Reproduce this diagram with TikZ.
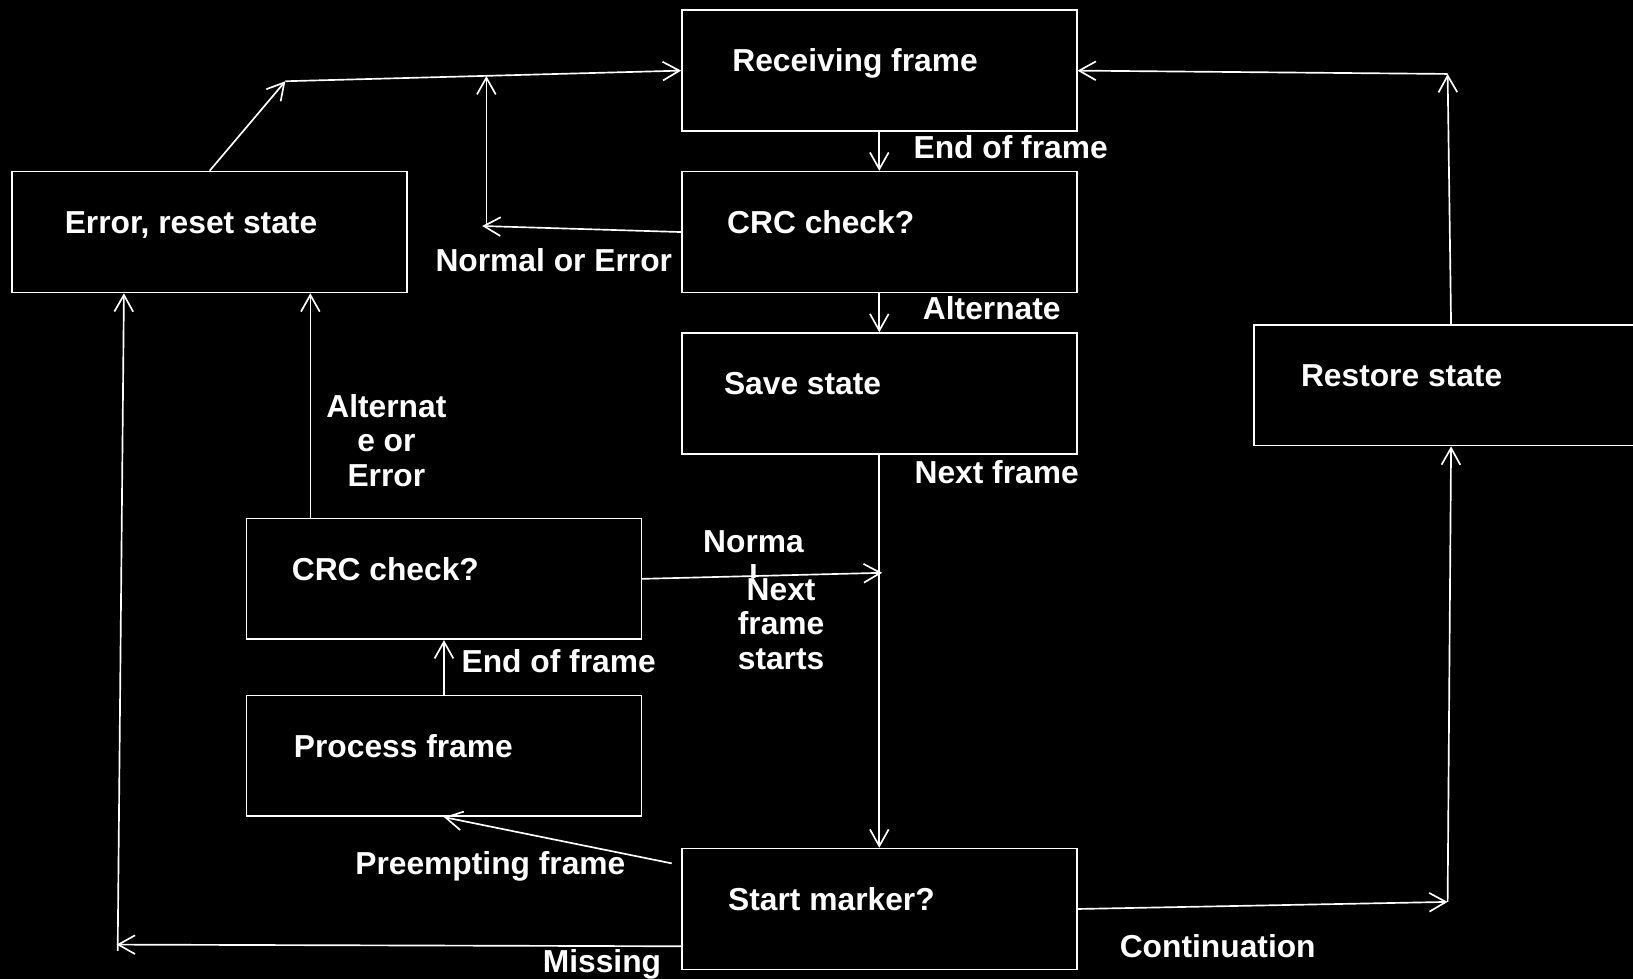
\documentclass[tikz,border=0pt]{standalone}
\usepackage{fontspec}
\setmainfont{Liberation Sans}
\usetikzlibrary{arrows.meta,calc}
\begin{document}
\begin{tikzpicture}[x=1pt,y=-1pt,
  box/.style={draw=white, line width=1.6pt, minimum width=379pt, minimum height=116pt, inner sep=0pt, anchor=north west},
  txt/.style={text=white, font=\bfseries\fontsize{30.5}{33.3}\selectfont, inner sep=0pt, anchor=base west},
  mtxt/.style={txt, anchor=base, align=center},
  arr/.style={draw=white, line width=1.6pt, -{Straight Barb[length=16pt,width=18pt]}}]
\fill[black] (0,0) rectangle (1568,940);
\useasboundingbox (0,0) rectangle (1568,940);
\clip (0,0) rectangle (1568,940);
% boxes
\node[box] (recv) at (654,9) {};
\node[box] (crct) at (654,164) {};
\node[box] (save) at (654,319) {};
\node[box] (rest) at (1203,311) {};
\node[box] (err) at (11,164) {};
\node[box] (crcb) at (236,497) {};
\node[box] (proc) at (236,667) {};
\node[box] (sm) at (654,814) {};
% box texts
\node[txt] (trecv) at (703,69) {Receiving frame};
\node[txt] (tcrct) at (698,224) {CRC check?};
\node[txt] (tsave) at (695,379) {Save state};
\node[txt] (trest) at (1249,371) {Restore state};
\node[txt] (terr) at (62,224) {Error, reset state};
\node[txt] (tcrcb) at (280,557) {CRC check?};
\node[txt] (tproc) at (282,727) {Process frame};
\node[txt] (tsm) at (699,874) {Start marker?};
% junctions
\coordinate (j1) at (274,78);
\coordinate (j2) at (467,73);
\coordinate (j3) at (463,217);
\coordinate (j3b) at (467,217);
\coordinate (j4) at (1390,71);
\coordinate (j5) at (1390,866);
\coordinate (j6) at (847,550);
\coordinate (j7) at (112,907);
\coordinate (j7b) at (113,913);
% connectors
\draw[arr] (err.north) -- (j1);
\draw[arr] (j1) -- (recv.west);
\draw[arr] (crct.west) -- (j3);
\draw[arr] (j3b) -- (j2);
\draw[arr] (recv.south) -- (crct.north);
\draw[arr] (crct.south) -- (save.north);
\draw[arr] (save.south) -- (sm.north);
\draw[arr] (crcb.east) -- (j6);
\draw[arr] ([xshift=62pt]crcb.north west) -- ([xshift=287pt]err.south west);
\draw[arr] (proc.north) -- (crcb.south);
\draw[arr] ([xshift=-9pt,yshift=-15pt]sm.north west) -- (proc.south);
\draw[arr] ([yshift=23pt]sm.south west) -- (j7);
\draw[arr] (j7b) -- ([xshift=108pt]err.south west);
\draw[arr] (sm.east) -- (j5);
\draw[arr] (j5) -- (rest.south);
\draw[arr] (rest.north) -- (j4);
\draw[arr] (j4) -- (recv.east);
% labels
\node[txt] (l1) at (877,152) {End of frame};
\node[txt] (l2) at (886,307) {Alternate};
\node[txt] (l3) at (878,464) {Next frame};
\node[txt] (l4) at (418,261) {Normal or Error};
\node[txt] (l5) at (443,646) {End of frame};
\node[txt] (l6) at (341,840) {Preempting frame};
\node[txt] (l7) at (521,934) {Missing};
\node[txt] (l8) at (1075,919) {Continuation};
\node[mtxt] (l9) at (371,467) {Alternat\\e or\\Error};
\node[mtxt] (l10) at (723.5,564) {Norma\\l};
\node[mtxt, fill=black] (l11) at (750,643) {Next\\frame\\starts};
\end{tikzpicture}
\end{document}
